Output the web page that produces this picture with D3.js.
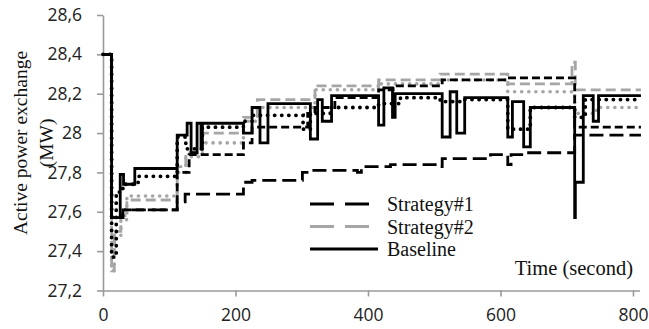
<!DOCTYPE html>
<html>
<head>
<meta charset="utf-8">
<script src="https://cdn.jsdelivr.net/npm/d3@7"></script>
<style>
  html, body { margin: 0; padding: 0; background: #fff; }
  svg { display: block; }
</style>
</head>
<body>
<svg id="chart" width="649" height="329"></svg>
<script>
// tick values
const xTicks = [0, 200, 400, 600, 800];
const yTicks = [27.2, 27.4, 27.6, 27.8, 28.0, 28.2, 28.4, 28.6];

// step series, [time (s), active power (MW)]
const baseline = [
  [0, 28.40], [13, 27.57], [26, 27.79], [31, 27.74], [48, 27.82], [112, 27.99], [127, 28.05],
  [133, 27.90], [142, 28.05], [148, 27.92], [150, 28.05], [212, 28.00], [225, 28.13], [237, 27.95],
  [249, 28.15], [313, 27.97], [324, 28.17], [331, 28.06], [345, 28.19], [416, 28.04], [424, 28.23],
  [437, 28.08], [441, 28.20], [512, 27.98], [524, 28.21], [534, 28.00], [546, 28.18], [611, 27.98],
  [618, 28.16], [635, 27.93], [645, 28.13], [712, 27.57], [713, 27.75], [725, 28.19], [740, 28.06],
  [748, 28.19], [812, 28.19]
];
const strategy1 = [
  [0, 28.40], [13, 27.57], [30, 27.61], [112, 27.65], [124, 27.69], [212, 27.75], [225, 27.76],
  [301, 27.80], [313, 27.81], [384, 27.80], [390, 27.83], [434, 27.84], [509, 27.83], [512, 27.87],
  [585, 27.89], [611, 27.84], [616, 27.89], [638, 27.90], [712, 27.99], [812, 27.99]
];
const strategy1b = [
  [0, 28.40], [13, 27.57], [30, 27.61], [112, 27.80], [130, 27.89], [212, 27.95], [225, 28.03],
  [309, 28.10], [320, 28.13], [350, 28.18], [416, 28.22], [438, 28.24], [512, 28.27], [611, 28.28],
  [712, 28.03], [812, 28.03]
];
const strategy2 = [
  [0, 28.40], [13, 27.30], [17, 27.50], [27, 27.58], [36, 27.66], [112, 27.83], [125, 27.90],
  [150, 28.00], [212, 28.08], [233, 28.17], [320, 28.24], [416, 28.27], [509, 28.30], [611, 28.25],
  [708, 28.36], [713, 28.22], [812, 28.22]
];
const strategy2b = [
  [0, 28.40], [13, 27.30], [17, 27.48], [27, 27.56], [36, 27.68], [112, 27.80], [125, 27.88],
  [150, 27.95], [212, 28.06], [233, 28.13], [320, 28.22], [416, 28.25], [509, 28.27], [611, 28.21],
  [712, 28.10], [745, 28.13], [812, 28.13]
];
const baselineB = [
  [0, 28.40], [13, 27.37], [20, 27.70], [30, 27.74], [53, 27.78], [112, 27.98], [125, 27.92],
  [150, 28.03], [212, 28.06], [225, 28.09], [302, 28.02], [313, 28.10], [343, 28.13], [416, 28.15],
  [449, 28.18], [509, 28.16], [544, 28.17], [611, 28.02], [645, 28.13], [712, 28.08], [728, 28.17],
  [812, 28.17]
];

const legendNames = ["Strategy#1", "Strategy#2", "Baseline"];

const svg = d3.select("#chart");
const gray = "#a6a6a6";
const axisColor = "#9a9a9a";

const x = d3.scaleLinear().domain([0, 810]).range([103, 639.6]);
const y = d3.scaleLinear().domain([27.2, 28.6]).range([290.5, 15]);

const fmt = v => String(Math.round(v * 10) / 10).replace(".", ",");

// axes
const xAxis = svg.append("g")
  .attr("transform", `translate(0,${y(27.2)})`)
  .call(d3.axisBottom(x).tickValues(xTicks).tickSize(6).tickPadding(12).tickSizeOuter(0));
const yAxis = svg.append("g")
  .attr("transform", `translate(${x(0)},0)`)
  .call(d3.axisLeft(y).tickValues(yTicks).tickFormat(fmt).tickSize(6).tickPadding(15).tickSizeOuter(0));

[xAxis, yAxis].forEach(a => {
  a.select(".domain").attr("stroke", axisColor).attr("stroke-width", 1.6);
  a.selectAll(".tick line").attr("stroke", axisColor).attr("stroke-width", 1.6);
  a.selectAll(".tick text")
    .attr("fill", "#222")
    .style("font-family", "'Open Sans', sans-serif")
    .style("font-size", "17.5px");
});

// lines
const line = d3.line().curve(d3.curveStepAfter).x(d => x(d[0])).y(d => y(d[1]));

const series = [
  { data: strategy2b, color: gray, dash: "0.1,7", width: 3.6, cap: "round" },
  { data: strategy2, color: gray, dash: "10,5", width: 2.8, cap: "butt" },
  { data: strategy1b, color: "#000", dash: "8,4", width: 2.8, cap: "butt" },
  { data: strategy1, color: "#000", dash: "14,6", width: 2.8, cap: "butt" },
  { data: baselineB, color: "#000", dash: "0.1,7", width: 3.8, cap: "round" },
  { data: baseline, color: "#000", dash: null, width: 2.8, cap: "butt" }
];

svg.append("g")
  .selectAll("path")
  .data(series)
  .enter()
  .append("path")
  .attr("d", d => line(d.data))
  .attr("fill", "none")
  .attr("stroke", d => d.color)
  .attr("stroke-width", d => d.width)
  .attr("stroke-linecap", d => d.cap)
  .attr("stroke-dasharray", d => d.dash);

// legend
const legendStyles = [
  { color: "#000", dash: "24,11" },
  { color: gray, dash: "24,11" },
  { color: "#000", dash: null }
];
const legend = svg.append("g").attr("transform", "translate(310,204)");
legend.selectAll("line")
  .data(legendNames)
  .enter()
  .append("line")
  .attr("x1", 0)
  .attr("x2", (d, i) => i === 2 ? 68 : 60)
  .attr("y1", (d, i) => i * 22.5)
  .attr("y2", (d, i) => i * 22.5)
  .attr("stroke", (d, i) => legendStyles[i].color)
  .attr("stroke-width", 3)
  .attr("stroke-dasharray", (d, i) => legendStyles[i].dash);
legend.selectAll("text")
  .data(legendNames)
  .enter()
  .append("text")
  .attr("x", 77)
  .attr("y", (d, i) => i * 22.5 + 7)
  .text(d => d)
  .style("font-family", "'Liberation Serif', serif")
  .style("font-size", "20px")
  .attr("fill", "#111");

// axis titles
svg.append("text")
  .attr("x", 633)
  .attr("y", 275)
  .attr("text-anchor", "end")
  .text("Time (second)")
  .style("font-family", "'Liberation Serif', serif")
  .style("font-size", "20.5px")
  .attr("fill", "#111");

const yTitle = svg.append("text")
  .attr("transform", "translate(0,143) rotate(-90)")
  .attr("text-anchor", "middle")
  .style("font-family", "'Liberation Serif', serif")
  .style("font-size", "19.5px")
  .attr("fill", "#111");
yTitle.append("tspan").attr("x", 0).attr("y", 27).text("Active power exchange");
yTitle.append("tspan").attr("x", 0).attr("y", 53).text("(MW)");
</script>
</body>
</html>
